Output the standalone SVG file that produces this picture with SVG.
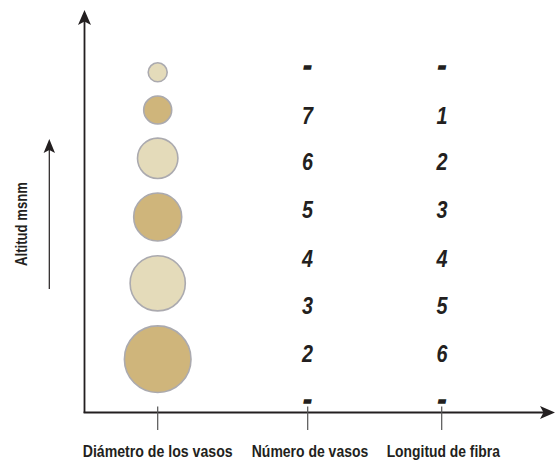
<svg xmlns="http://www.w3.org/2000/svg" width="555" height="460" viewBox="0 0 555 460">
<style>
.axis{stroke:#231f20;stroke-width:1.8;fill:none}
.tick{stroke:#555;stroke-width:1.2}
.dark{fill:#cfb57b;stroke:#abaaaf;stroke-width:1.6}
.light{fill:#e4dbba;stroke:#abaaaf;stroke-width:1.6}
.num{font-family:"Liberation Sans Narrow","Liberation Sans",Arial,sans-serif;font-stretch:condensed;font-weight:bold;font-style:italic;font-size:24px;fill:#231f20;text-anchor:middle}
.dash{stroke:#231f20;stroke-width:1.6}
.lbl{font-family:"Liberation Sans Narrow","Liberation Sans",Arial,sans-serif;font-stretch:condensed;font-weight:bold;font-size:16px;fill:#231f20;text-anchor:middle}
.head{fill:#231f20}
</style>
<rect width="555" height="460" fill="#fff"/>
<g id="connectors">
<line class="axis" x1="84.5" y1="20" x2="84.5" y2="413"/>
<line class="axis" x1="83.6" y1="412.5" x2="545" y2="412.5"/>
<path class="head" d="M84.5,10 L91,25 L84.5,21.5 L78,25 Z"/>
<path class="head" d="M555,412.5 L540,419 L543.5,412.5 L540,406 Z"/>
<line stroke="#231f20" stroke-width="1.2" x1="49.3" y1="148" x2="49.3" y2="289"/>
<path class="head" d="M49.3,139 L55,153 L49.3,150 L43.6,153 Z"/>
<line class="tick" x1="157.7" y1="406.5" x2="157.7" y2="430"/>
<line class="tick" x1="307.7" y1="406.5" x2="307.7" y2="430"/>
<line class="tick" x1="441.7" y1="406.5" x2="441.7" y2="430"/>
</g>
<g id="circles">
<circle class="light" cx="157.7" cy="72.3" r="9.5"/>
<circle class="dark" cx="157.7" cy="110" r="14"/>
<circle class="light" cx="157.7" cy="158.3" r="20.2"/>
<circle class="dark" cx="157.7" cy="217" r="24"/>
<circle class="light" cx="157.7" cy="283.3" r="27.6"/>
<circle class="dark" cx="157.7" cy="359.2" r="33.3"/>
</g>
<g id="numero-de-vasos">
<text class="num dash" x="307.5" y="74">-</text>
<text class="num" x="307.5" y="123.5" textLength="11" lengthAdjust="spacingAndGlyphs">7</text>
<text class="num" x="307.5" y="170.2" textLength="11" lengthAdjust="spacingAndGlyphs">6</text>
<text class="num" x="307.5" y="217.8" textLength="11" lengthAdjust="spacingAndGlyphs">5</text>
<text class="num" x="307.5" y="266.8" textLength="11" lengthAdjust="spacingAndGlyphs">4</text>
<text class="num" x="307.5" y="313.5" textLength="11" lengthAdjust="spacingAndGlyphs">3</text>
<text class="num" x="307.5" y="361.8" textLength="11" lengthAdjust="spacingAndGlyphs">2</text>
<text class="num dash" x="307.5" y="408.3">-</text>
</g>
<g id="longitud-de-fibra">
<text class="num dash" x="442" y="74">-</text>
<text class="num" x="442" y="123.5" textLength="11" lengthAdjust="spacingAndGlyphs">1</text>
<text class="num" x="442" y="170.2" textLength="11" lengthAdjust="spacingAndGlyphs">2</text>
<text class="num" x="442" y="217.8" textLength="11" lengthAdjust="spacingAndGlyphs">3</text>
<text class="num" x="442" y="266.8" textLength="11" lengthAdjust="spacingAndGlyphs">4</text>
<text class="num" x="442" y="313.5" textLength="11" lengthAdjust="spacingAndGlyphs">5</text>
<text class="num" x="442" y="361.8" textLength="11" lengthAdjust="spacingAndGlyphs">6</text>
<text class="num dash" x="442" y="408.3">-</text>
</g>
<g id="labels">
<text class="lbl" x="157.7" y="457" textLength="150" lengthAdjust="spacingAndGlyphs">Diámetro de los vasos</text>
<text class="lbl" x="310" y="457" textLength="116.5" lengthAdjust="spacingAndGlyphs">Número de vasos</text>
<text class="lbl" x="443.3" y="457" textLength="113.3" lengthAdjust="spacingAndGlyphs">Longitud de fibra</text>
<text class="lbl" font-size="15" transform="translate(26.5,224) rotate(-90)" textLength="84" lengthAdjust="spacingAndGlyphs">Altitud msnm</text>
</g>
</svg>
